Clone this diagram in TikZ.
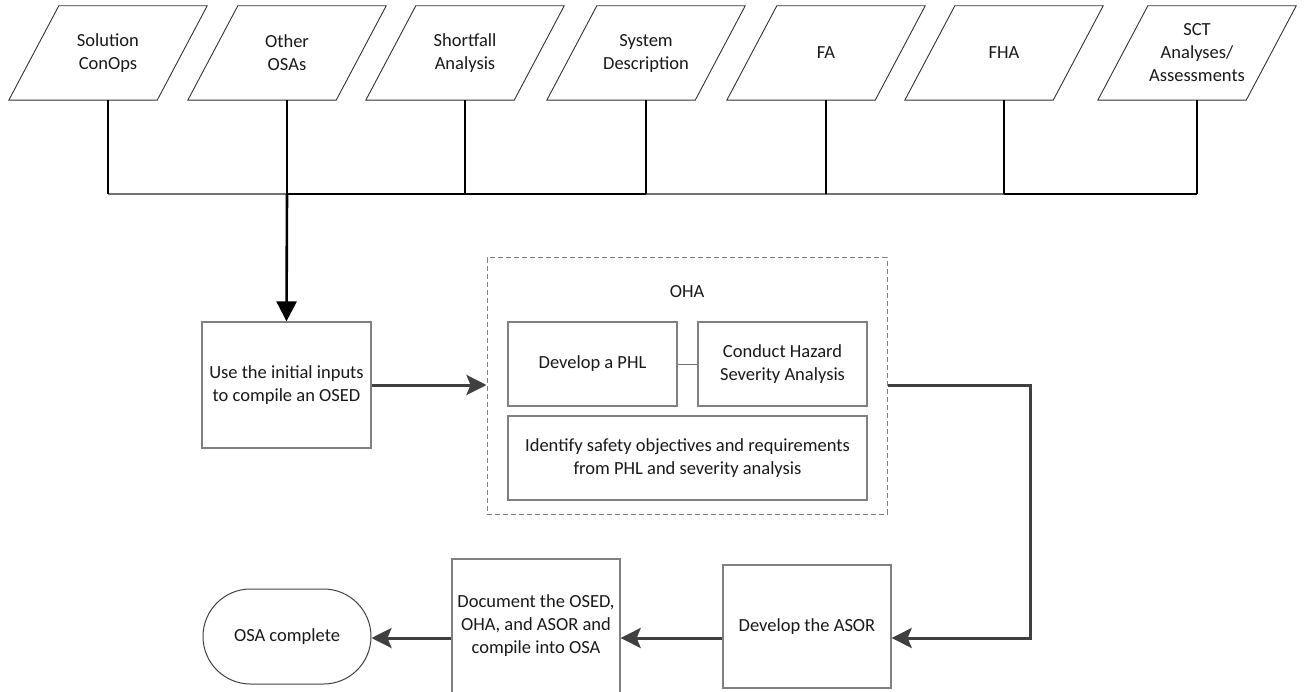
\documentclass[tikz,border=0pt]{standalone}
\usepackage{fontspec}
\setmainfont{Carlito}
\usetikzlibrary{arrows.meta,calc}
\begin{document}
\begin{tikzpicture}[x=1pt,y=-1pt,
  every node/.style={font=\fontsize{18.5}{23}\selectfont, align=center, inner sep=0pt, text=black!90},
  inbox/.style={minimum width=148pt, minimum height=94pt},
  inshape/.style={draw=black!80, line width=0.9pt},
  stepbox/.style={draw=black!50, line width=1.3pt},
  stem/.style={line width=2.3pt, black},
  busblack/.style={line width=2.4pt, black},
  busgray/.style={line width=2pt, black!55},
  feed/.style={line width=2.6pt, black, -{Triangle[length=20pt,width=20pt]}},
  flow/.style={line width=3pt, black!75, -{Stealth[length=20pt,width=20pt,inset=4pt]}},
  link/.style={line width=1pt, black!55},
]
\useasboundingbox (0,0) rectangle (1305,692);
\clip (0,0) rectangle (1305,692);

% inputs
\node[inbox] (sol)   at (108,53)  {Solution\\ConOps};
\node[inbox] (osas)  at (287,53)  {Other\\OSAs};
\node[inbox] (short) at (465,53)  {Shortfall\\Analysis};
\node[inbox] (sysd)  at (646,53)  {System\\Description};
\node[inbox] (fa)    at (826,53)  {FA};
\node[inbox] (fha)   at (1004,53) {FHA};
\node[inbox] (sct)   at (1197,53) {SCT\\Analyses/\\Assessments};
\foreach \n in {sol,osas,short,sysd,fa,fha,sct}
  \draw[inshape] ($(\n.south west)+(-25,0)$) -- ($(\n.south east)+(-25,0)$)
     -- ($(\n.north east)+(25,0)$) -- ($(\n.north west)+(25,0)$) -- cycle;

% collecting bus
\coordinate (bus) at (0,194);
\foreach \n/\k in {sol/1,osas/2,short/3,sysd/4,fa/5,fha/6,sct/7}
  \coordinate (f\k) at (\n.south |- bus);
\draw[busgray]  (f1) -- (f2);
\draw[busblack] (f2) -- (f4);
\draw[busgray]  (f4) -- (f6);
\draw[busblack] (f6) -- (f7);
\foreach \n/\k in {sol/1,osas/2,short/3,sysd/4,fa/5,fha/6,sct/7}
  \draw[stem] (\n.south) -- (f\k);

% OSED
\node[stepbox, minimum width=169pt, minimum height=126pt] (use) at (286.5,385)
  {Use the initial inputs\\to compile an OSED};
\draw[feed] (f2) -- (use.north);

% OHA group
\node[draw=black!50, dashed, dash pattern=on 5pt off 3pt, line width=1pt,
      minimum width=400pt, minimum height=256pt] (oha) at (687,386) {};
\node (ohalabel) at (687,292) {OHA};
\node[stepbox, minimum width=169pt, minimum height=84pt] (phl) at (592.5,364) {Develop a PHL};
\node[stepbox, minimum width=169pt, minimum height=84pt] (chsa) at (782.5,364) {Conduct Hazard\\Severity Analysis};
\node[stepbox, minimum width=359pt, minimum height=84pt] (ident) at (687.5,458)
  {Identify safety objectives and requirements\\from PHL and severity analysis};
\draw[link] (phl.east) -- (chsa.west);

\draw[flow] (use.east) -- (oha.west |- use.east);

% bottom row
\coordinate (row) at (0,638);
\coordinate (bend) at (1030,638);
\node[stepbox, minimum width=168pt, minimum height=123pt] (asor) at (807,626.5) {Develop the ASOR};
\node[stepbox, minimum width=168pt, minimum height=134pt] (doc) at (536,626)
  {Document the OSED,\\OHA, and ASOR and\\compile into OSA};
\node[draw=black!75, line width=1pt, rounded corners=47.5pt,
      minimum width=168pt, minimum height=95pt] (done) at (287,636.5) {OSA complete};

\draw[flow] (oha.east |- use.east) -| (bend) -- (asor.east |- row);
\draw[flow] (asor.west |- row) -- (doc.east |- row);
\draw[flow] (doc.west |- row) -- (done.east |- row);
\end{tikzpicture}
\end{document}
